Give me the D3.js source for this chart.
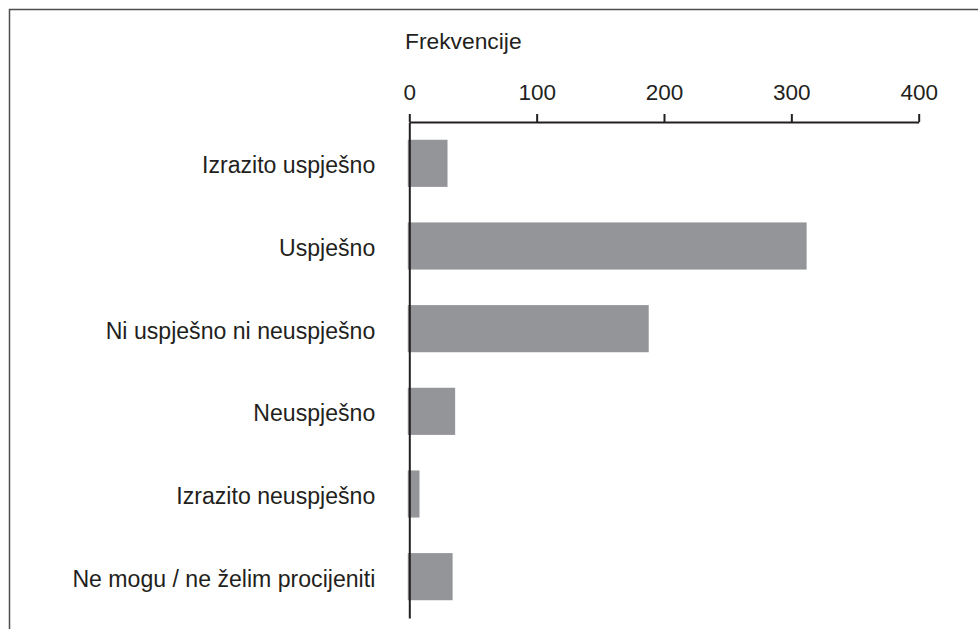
<!DOCTYPE html>
<html>
  <head>
    <meta charset="utf-8">
    <title>Frekvencije</title>
    <script src="https://d3js.org/d3.v7.min.js"></script>
    <style>
      body { margin: 0; background: #fff; }
      svg text { font-family: "Liberation Sans", Arial, Helvetica, sans-serif; fill: #231f20; }
    </style>
  </head>
  <body>
    <svg width="978" height="629"></svg>
    <script>
      // data
      const categories = [
        'Izrazito uspješno',
        'Uspješno',
        'Ni uspješno ni neuspješno',
        'Neuspješno',
        'Izrazito neuspješno',
        'Ne mogu / ne želim procijeniti'
      ];
      const frequencies = [30, 312, 188, 36, 8, 34];
      const xTicks = [0, 100, 200, 300, 400];
      const axisTitle = 'Frekvencije';

      const svg = d3.select('svg');

      // frame round the figure (top and left edge only, rest is cropped)
      svg.append('path')
        .attr('d', 'M9.5,629V9.5H978')
        .attr('fill', 'none')
        .attr('stroke', '#4d4d4d')
        .attr('stroke-width', 1.5);

      const x = d3.scaleLinear().domain([0, 400]).range([409.3, 918.7]);
      const y = d3.scaleBand().domain(categories).range([122, 618])
        .paddingInner(0.43).paddingOuter(0.215);

      const data = categories.map((c, i) => ({cat: c, val: frequencies[i]}));

      svg.append('g').selectAll('rect').data(data)
        .enter()
        .append('rect')
          .attr('x', x(0) - 1.5)
          .attr('y', d => y(d.cat))
          .attr('width', d => x(d.val) - x(0) + 1.5)
          .attr('height', y.bandwidth())
          .attr('fill', '#939598');

      const xAxis = svg.append('g')
        .attr('transform', `translate(0,${y.range()[0]})`)
        .call(d3.axisTop(x).tickValues(xTicks).tickSize(8).tickSizeOuter(0).tickPadding(14));
      xAxis.selectAll('path, line').attr('stroke', '#231f20').attr('stroke-width', 2);
      xAxis.selectAll('text').attr('font-size', 22.5).attr('fill', '#231f20');

      const yAxis = svg.append('g')
        .attr('transform', `translate(${x(0)},0)`)
        .call(d3.axisLeft(y).tickSize(0).tickSizeOuter(0).tickPadding(34));
      yAxis.selectAll('path').attr('stroke', '#231f20').attr('stroke-width', 2);
      yAxis.selectAll('text').attr('font-size', 23.1).attr('dy', '0.43em').attr('fill', '#231f20');

      svg.append('text')
        .attr('x', 405)
        .attr('y', 48.5)
        .attr('font-size', 22.8)
        .text(axisTitle);
    </script>
  </body>
</html>
